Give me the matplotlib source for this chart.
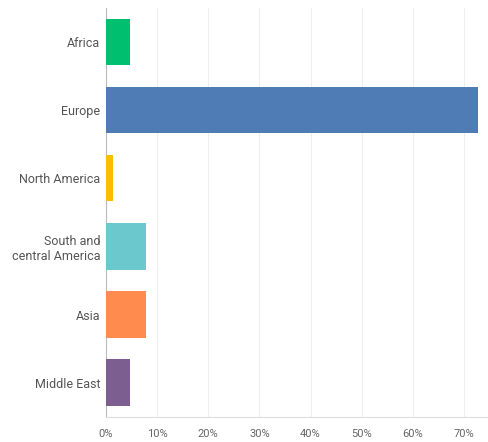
import matplotlib.pyplot as plt
from matplotlib.ticker import FuncFormatter

plt.rcParams["font.family"] = ["Roboto", "DejaVu Sans"]

regions = ["Africa", "Europe", "North America", "South and\ncentral America", "Asia", "Middle East"]
shares = [4.7, 72.7, 1.3, 7.8, 7.8, 4.7]
colors = ["#00BF6F", "#507CB6", "#F9BE00", "#6BC8CD", "#FF8B4F", "#7D5E90"]
ticks = [0, 10, 20, 30, 40, 50, 60, 70]

fig = plt.figure(figsize=(4.89, 4.42), dpi=100)
ax = fig.add_axes([0.2168, 0.0573, 0.7812, 0.9246])

pos = list(range(len(regions)))
ax.barh(pos, shares, height=0.68, color=colors, zorder=3)
ax.set_ylim(len(regions) - 0.5, -0.5)
ax.set_xlim(0, 74.7)
ax.set_yticks(pos)
ax.set_yticklabels(regions, color="#555555", fontsize=9)
ax.set_xticks(ticks)
ax.xaxis.set_major_formatter(FuncFormatter(lambda v, p: f"{v:.0f}%"))
ax.tick_params(axis="x", length=0, pad=9, labelsize=8, labelcolor="#666666")
ax.tick_params(axis="y", length=0, pad=4)
ax.grid(axis="x", color="#eeeeee", linewidth=0.8, zorder=0)
for s in ["top", "right"]:
    ax.spines[s].set_visible(False)
ax.spines["left"].set_color("#bbbbbb")
ax.spines["bottom"].set_color("#dddddd")

fig.savefig("out.png", dpi=100)
